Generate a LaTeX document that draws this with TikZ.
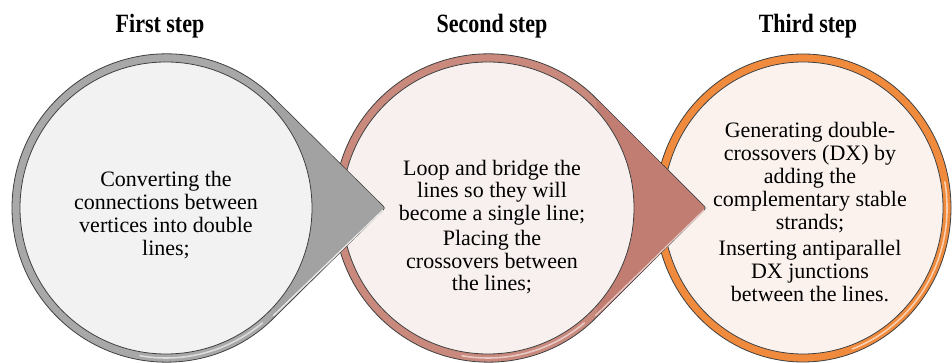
\documentclass[tikz,border=0pt]{standalone}
\usepackage{fontspec}
\usepackage{graphicx}
\setmainfont{Liberation Serif}
\definecolor{outl}{HTML}{404040}
\definecolor{gring}{HTML}{A8A8A8}
\definecolor{garrow}{HTML}{A2A2A2}
\definecolor{gfill}{HTML}{F2F2F2}
\definecolor{pring}{HTML}{C98A7D}
\definecolor{parrow}{HTML}{C27D72}
\definecolor{pfill}{HTML}{F8F0EE}
\definecolor{oring}{HTML}{F08A3C}
\definecolor{ofill}{HTML}{FBF2EE}
\tikzset{
  outline/.style={draw=outl, line width=0.8pt},
  title/.style={font=\fontsize{22}{24}\selectfont\bfseries, anchor=center},
  body/.style={font=\fontsize{22}{23}\selectfont, align=center, anchor=center, inner sep=0pt},
  highlight/.style={line width=1.6pt, line cap=round},
}
\begin{document}
\begin{tikzpicture}[x=1pt,y=1pt]
\useasboundingbox (0,0) rectangle (952,363);
\fill[white] (0,0) rectangle (952,363);
% ---- third circle (drawn first)
\path[outline, fill=oring] (803,155) ellipse[x radius=148, y radius=154];
\path[outline, fill=ofill] (803,155) ellipse[x radius=140, y radius=146];
\draw[highlight, oring!40!white] ([shift={(803,155)}]-70:144 and 150) arc[start angle=-70, end angle=10, x radius=144, y radius=150];
% ---- second teardrop
\path[outline, fill=pring, rounded corners=2pt] (706,155) -- ([shift={(488,155)}]45:154) arc[start angle=45, end angle=315, radius=154] -- cycle;
\fill[parrow, rounded corners=2pt] (705.5,155) -- ([shift={(488,155)}]45:153.5) -- ([shift={(488,155)}]-45:153.5) -- cycle;
\path[outline, fill=pfill] (488,155) circle[radius=146];
\draw[highlight, pring!45!white] ([shift={(488,155)}]-100:150) arc[start angle=-100, end angle=-50, radius=150];
\draw[highlight, pring!45!white, line width=1.2pt] ([shift={(706,155)}]-135:3) -- ([shift={(488,155)}]-45:152);
% ---- first teardrop
\path[outline, fill=gring, rounded corners=2pt] (385,155) -- ([shift={(166,155)}]45:154) arc[start angle=45, end angle=315, radius=154] -- cycle;
\fill[garrow, rounded corners=2pt] (384.5,155) -- ([shift={(166,155)}]45:153.5) -- ([shift={(166,155)}]-45:153.5) -- cycle;
\path[outline, fill=gfill] (166,155) circle[radius=146];
\draw[highlight, gring!40!white] ([shift={(166,155)}]-100:150) arc[start angle=-100, end angle=-50, radius=150];
\draw[highlight, white!85!gray, line width=1.2pt] ([shift={(385,155)}]-135:3) -- ([shift={(166,155)}]-45:152);
% ---- titles
\node[title] (t1) at (160,337) {\scalebox{1}[1.2]{First step}};
\node[title] (t2) at (492,337) {\scalebox{1}[1.2]{Second step}};
\node[title] (t3) at (808,337) {\scalebox{1}[1.2]{Third step}};
% ---- texts
\node[body] (b1) at (166,148) {Converting the\\connections between\\vertices into double\\lines;};
\node[body, font=\fontsize{22}{22.5}\selectfont] (b2) at (492,136) {Loop and bridge the\\lines so they will\\become a single line;\\[3pt]Placing the\\crossovers between\\the lines;};
\node[body] (b3) at (810,151) {Generating double-\\crossovers (DX) by\\adding the\\complementary stable\\strands;\\[3pt]Inserting antiparallel\\DX junctions\\between the lines.};
\end{tikzpicture}
\end{document}
